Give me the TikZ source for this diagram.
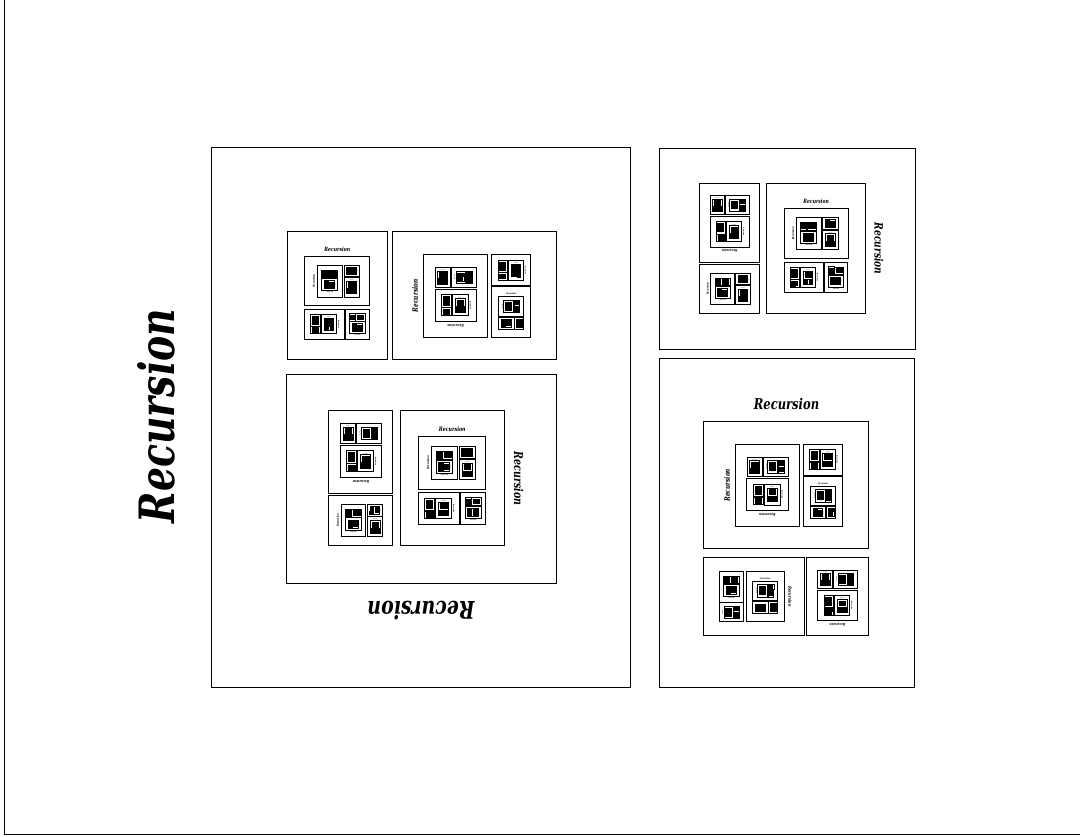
\documentclass[tikz,border=0pt]{standalone}
\usepackage{fontspec}
\setmainfont{DejaVu Serif}
\usepackage{graphicx}
\tikzset{
  rframe/.style={draw=black, line width=0.9pt},
  rfill/.style={fill=black, draw=black, line width=0.9pt},
  rlabel/.style={transform shape, inner sep=0pt, anchor=base},
}
\newcommand\rcsLabel{\resizebox{214pt}{37pt}{\bfseries\itshape Recursion}}
\newcommand\rcsDraw{%
  \ifdim\rcsScale pt<0.0016pt
    \path[rfill] (0,0) rectangle (1080,837);
  \else
    \path[rframe] (0,0) rectangle (1080,837);
    \node[rlabel, rotate=90] at (170,418) {\rcsLabel};
    \begin{scope}[shift={(626,147)},rotate=90,scale=0.5]
      \pgfmathsetmacro\rcsScale{\rcsScale*0.5}%
      \rcsDraw
    \end{scope}
    \begin{scope}[shift={(911,686)},rotate=180,xscale=0.237,yscale=0.2405]
      \pgfmathsetmacro\rcsScale{\rcsScale*0.238}%
      \rcsDraw
    \end{scope}
    \begin{scope}[shift={(655,476)},rotate=-90,scale=0.305]
      \pgfmathsetmacro\rcsScale{\rcsScale*0.305}%
      \rcsDraw
    \end{scope}
  \fi}
\begin{document}
\begin{tikzpicture}[x=1pt,y=1pt]
  \useasboundingbox (0,0) rectangle (1080,837);
  \def\rcsScale{1}
  \begin{scope}[shift={(4,3)}]
    \rcsDraw
  \end{scope}
\end{tikzpicture}
\end{document}
